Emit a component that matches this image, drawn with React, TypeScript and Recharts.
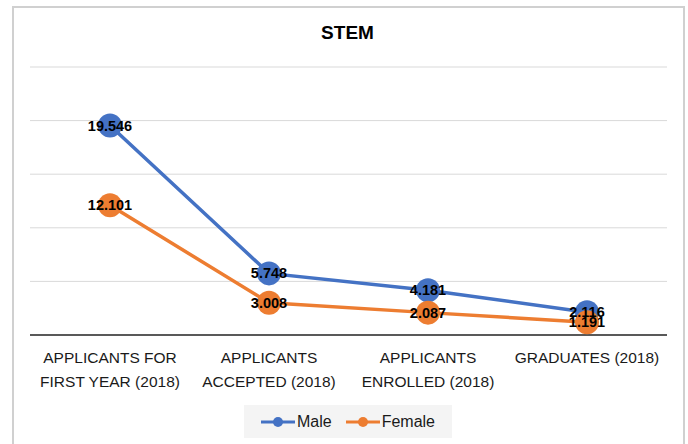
import { LineChart, Line, XAxis, YAxis, CartesianGrid, LabelList } from 'recharts';

const categories = [
  'APPLICANTS FOR FIRST YEAR (2018)',
  'APPLICANTS ACCEPTED (2018)',
  'APPLICANTS ENROLLED (2018)',
  'GRADUATES (2018)',
];
// how each tick label breaks into lines
const tickLines = [
  ['APPLICANTS FOR', 'FIRST YEAR (2018)'],
  ['APPLICANTS', 'ACCEPTED (2018)'],
  ['APPLICANTS', 'ENROLLED (2018)'],
  ['GRADUATES (2018)'],
];
const male = [19546, 5748, 4181, 2116];
const female = [12101, 3008, 2087, 1191];
const yTicks = [0, 5000, 10000, 15000, 20000, 25000];

const BLUE = '#4472c4';
const ORANGE = '#ed7d31';
const FONT = '"Liberation Sans", Arial, sans-serif';

const data = categories.map((c, i) => ({ name: c, male: male[i], female: female[i] }));

const fmt = (v: number) => new Intl.NumberFormat('de-DE').format(v);

function Tick(props: any) {
  const { x, y, index } = props;
  const lines = tickLines[index] || [];
  return (
    <text x={x} y={y + 20} textAnchor="middle" fontSize={15.5} fill="#1a1a1a" fontFamily={FONT}>
      {lines.map((l, i) => (
        <tspan key={i} x={x} dy={i === 0 ? 0 : 24}>{l}</tspan>
      ))}
    </text>
  );
}

function ValueLabel(props: any) {
  const { x, y, value } = props;
  return (
    <text x={x} y={y} dy="0.35em" textAnchor="middle" fontSize={14.5} fontWeight="bold" fill="#000" fontFamily={FONT}>
      {fmt(value)}
    </text>
  );
}

function LegendBox() {
  const items = [
    { label: 'Male', color: BLUE },
    { label: 'Female', color: ORANGE },
  ];
  return (
    <div style={{ position: 'absolute', left: 244, top: 405, width: 208, height: 33, background: '#f4f4f4', display: 'flex', alignItems: 'center', justifyContent: 'center', gap: 14, fontFamily: FONT, fontSize: 16, color: '#1a1a1a' }}>
      {items.map((it) => (
        <div key={it.label} style={{ display: 'flex', alignItems: 'center' }}>
          <svg width={34} height={12}>
            <line x1={0} y1={6} x2={34} y2={6} stroke={it.color} strokeWidth={3} />
            <circle cx={17} cy={6} r={5} fill={it.color} />
          </svg>
          <span style={{ marginLeft: 2 }}>{it.label}</span>
        </div>
      ))}
    </div>
  );
}

export default function App() {
  return (
    <div style={{ position: 'absolute', left: 0, top: 0, width: 688, height: 444, background: '#fff', overflow: 'hidden' }}>
      <div style={{ position: 'absolute', left: 12, top: 6, width: 669, height: 460, border: '2px solid #d0d0d0' }} />
      <div style={{ position: 'absolute', left: 0, top: 22, width: 688, textAlign: 'center', paddingLeft: 7, boxSizing: 'border-box', fontFamily: FONT, fontWeight: 'bold', fontSize: 19, color: '#000' }}>
        STEM
      </div>
      <LineChart width={688} height={444} data={data} margin={{ top: 67, right: 21, bottom: 0, left: 30 }} style={{ position: 'absolute', left: 0, top: 0 }}>
        <CartesianGrid vertical={false} stroke="#d9d9d9" strokeWidth={1} />
        <YAxis hide domain={[0, 25000]} ticks={yTicks} />
        <XAxis
          dataKey="name"
          interval={0}
          height={109}
          padding={{ left: 80, right: 80 }}
          axisLine={{ stroke: '#595959', strokeWidth: 2 }}
          tickLine={false}
          tick={<Tick />}
        />
        <Line dataKey="male" name="Male" stroke={BLUE} strokeWidth={3.5} dot={{ r: 12, fill: BLUE, stroke: BLUE, strokeWidth: 0 }} isAnimationActive={false} />
        <Line dataKey="female" name="Female" stroke={ORANGE} strokeWidth={3.5} dot={{ r: 12, fill: ORANGE, stroke: ORANGE, strokeWidth: 0 }} isAnimationActive={false} />
        <Line dataKey="male" stroke="none" dot={false} activeDot={false} legendType="none" isAnimationActive={false}>
          <LabelList dataKey="male" content={<ValueLabel />} />
        </Line>
        <Line dataKey="female" stroke="none" dot={false} activeDot={false} legendType="none" isAnimationActive={false}>
          <LabelList dataKey="female" content={<ValueLabel />} />
        </Line>
      </LineChart>
      <LegendBox />
    </div>
  );
}
